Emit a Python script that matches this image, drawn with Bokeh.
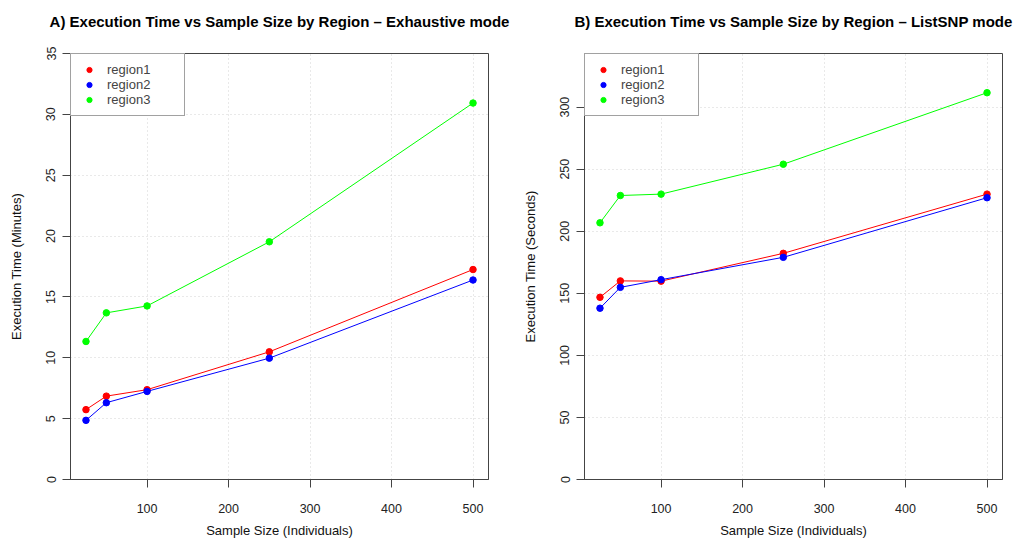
from bokeh.plotting import figure
from bokeh.layouts import row
from bokeh.models import FixedTicker, Range1d, Legend, LegendItem, Title
from bokeh.embed import file_html
from bokeh.resources import INLINE

# ---- data ----
sample_sizes = [25, 50, 100, 250, 500]
regions = ["region1", "region2", "region3"]
colors = ["#FF0000", "#0000FF", "#00FF00"]

exhaustive_r1 = [5.74, 6.85, 7.38, 10.49, 17.25]
exhaustive_r2 = [4.86, 6.31, 7.24, 9.97, 16.39]
exhaustive_r3 = [11.34, 13.69, 14.26, 19.53, 30.93]

listsnp_r1 = [146.8, 160.0, 159.8, 182.2, 229.9]
listsnp_r2 = [138.0, 154.8, 161.0, 179.0, 227.0]
listsnp_r3 = [206.8, 228.8, 229.9, 254.0, 311.6]

x_ticks = [100, 200, 300, 400, 500]
y_ticks_a = [0, 5, 10, 15, 20, 25, 30, 35]
y_ticks_b = [0, 50, 100, 150, 200, 250, 300]

FONT = "Liberation Sans"
DARK = "#444444"


def make_panel(title, ylabel, series, yticks, ymax, width, border_left, border_right):
    p = figure(width=width, height=540, output_backend="svg", toolbar_location=None,
               x_range=Range1d(6, 519), y_range=Range1d(0, ymax),
               min_border_left=border_left, min_border_right=border_right,
               min_border_top=53, min_border_bottom=61)
    p.background_fill_color = "white"
    p.border_fill_color = "white"
    p.outline_line_color = DARK
    p.outline_line_width = 1
    p.title.text = ""

    # spacer (closest to the frame) then the real title above it
    p.add_layout(Title(text=" ", text_font_size="1px", standoff=17), "above")
    p.add_layout(Title(text=title, align="center", vertical_align="top",
                       text_font=FONT, text_font_size="15px", text_font_style="bold",
                       text_color="#000000", standoff=4), "above")

    p.xaxis.ticker = FixedTicker(ticks=x_ticks)
    p.yaxis.ticker = FixedTicker(ticks=yticks)
    for ax in (p.xaxis[0], p.yaxis[0]):
        ax.axis_line_color = DARK
        ax.major_tick_line_color = DARK
        ax.major_tick_in = 0
        ax.major_tick_out = 8
        ax.minor_tick_line_color = None
        ax.major_label_text_font = FONT
        ax.major_label_text_font_size = "12.5px"
        ax.major_label_text_color = "#222222"
        ax.axis_label_text_font = FONT
        ax.axis_label_text_font_size = "13px"
        ax.axis_label_text_font_style = "normal"
        ax.axis_label_text_color = "#111111"
    p.xaxis.major_label_standoff = 16
    p.yaxis.major_label_standoff = 7
    p.yaxis.major_label_orientation = "vertical"
    p.xaxis.axis_label = "Sample Size (Individuals)"
    p.yaxis.axis_label = ylabel
    p.xaxis.axis_label_standoff = 7
    p.yaxis.axis_label_standoff = 20

    p.xgrid.ticker = FixedTicker(ticks=x_ticks)
    p.ygrid.ticker = FixedTicker(ticks=yticks)
    p.grid.grid_line_color = "#d3d3d3"
    p.grid.grid_line_dash = "1 3"
    p.grid.grid_line_width = 1

    items = []
    for name, col, vals in zip(regions, colors, series):
        p.line(sample_sizes, vals, line_color=col, line_width=1)
        r = p.scatter(sample_sizes, vals, size=6.5, fill_color=col, line_color=col)
        items.append(LegendItem(label=name, renderers=[r]))

    leg = Legend(items=items, location="top_left", margin=0, padding=8,
                 glyph_width=20, glyph_height=13, label_height=15, label_width=69,
                 label_standoff=8, spacing=0,
                 label_text_font=FONT, label_text_font_size="13px",
                 border_line_color=DARK, border_line_width=1,
                 background_fill_color="white", background_fill_alpha=1.0)
    p.add_layout(leg)
    return p


pa = make_panel("A) Execution Time vs Sample Size by Region \u2013 Exhaustive mode",
                "Execution Time (Minutes)",
                [exhaustive_r1, exhaustive_r2, exhaustive_r3], y_ticks_a, 35, 510, 70, 22)
pb = make_panel("B) Execution Time vs Sample Size by Region \u2013 ListSNP mode",
                "Execution Time (Seconds)",
                [listsnp_r1, listsnp_r2, listsnp_r3], y_ticks_b, 343.2, 506, 74, 14)

layout = row(pa, pb)
open("out.html", "w").write(file_html(layout, INLINE))
